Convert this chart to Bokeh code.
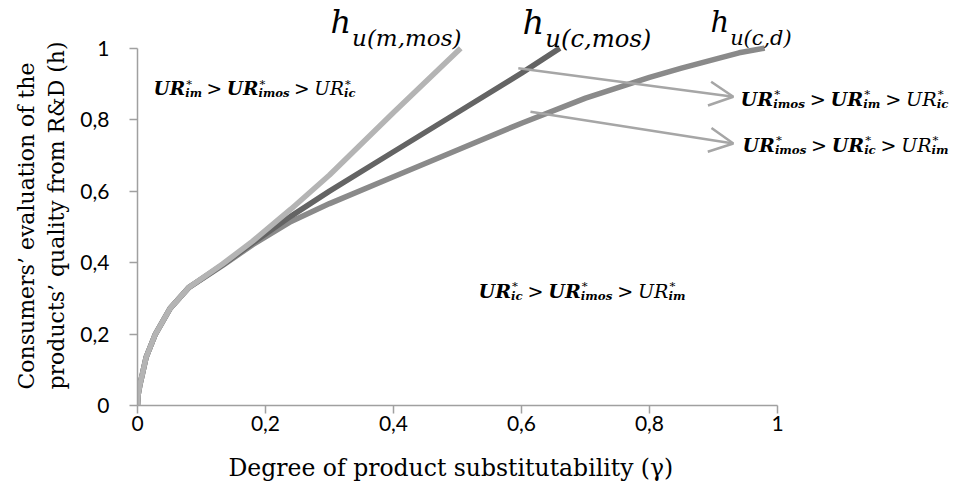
import glob
import os

from bokeh.plotting import figure
from bokeh.models import Range1d, Label, Arrow, OpenHead, FixedTicker, Title
from bokeh.embed import file_html
from bokeh.resources import INLINE

try:
    from PIL import ImageFont
except Exception:  # pragma: no cover
    ImageFont = None

# ---------------- data ----------------
GAMMA_M_MOS = [0, 0.001, 0.004, 0.0076, 0.0135, 0.028, 0.051, 0.08, 0.133, 0.18, 0.24, 0.3, 0.4, 0.505]
H_M_MOS = [0, 0.03, 0.06, 0.088, 0.135, 0.2, 0.272, 0.33, 0.396, 0.46, 0.55, 0.645, 0.82, 1.0]

GAMMA_C_MOS = [0, 0.001, 0.004, 0.0076, 0.0135, 0.028, 0.051, 0.08, 0.133, 0.18, 0.24, 0.3, 0.4, 0.5, 0.6, 0.66]
H_C_MOS = [0, 0.03, 0.06, 0.088, 0.135, 0.2, 0.272, 0.33, 0.394, 0.455, 0.53, 0.6, 0.71, 0.82, 0.93, 1.0]

GAMMA_C_D = [0, 0.001, 0.004, 0.0076, 0.0135, 0.028, 0.051, 0.08, 0.133, 0.18, 0.24, 0.3, 0.4, 0.5, 0.6, 0.7, 0.8, 0.85, 0.9, 0.94, 0.98]
H_C_D = [0, 0.03, 0.06, 0.088, 0.135, 0.2, 0.272, 0.33, 0.392, 0.45, 0.515, 0.565, 0.64, 0.715, 0.79, 0.86, 0.918, 0.944, 0.968, 0.987, 1.0]

CURVE_NAMES = ["m,mos", "c,mos", "c,d"]
CURVE_COLORS = ["#b4b4b4", "#646464", "#8a8a8a"]

X_TICKS = [0, 0.2, 0.4, 0.6, 0.8, 1]
X_TICK_LABELS = ["0", "0,2", "0,4", "0,6", "0,8", "1"]
Y_TICKS = [0, 0.2, 0.4, 0.6, 0.8, 1]
Y_TICK_LABELS = ["0", "0,2", "0,4", "0,6", "0,8", "1"]

X_TITLE = "Degree of product substitutability (γ)"
Y_TITLE_LINES = ["Consumers’ evaluation of the", "products’ quality from R&D (h)"]

# arrows (data coordinates): start -> end
ARROW_X0 = [0.595, 0.614]
ARROW_Y0 = [0.944, 0.822]
ARROW_X1 = [0.931, 0.931]
ARROW_Y1 = [0.864, 0.733]

# region texts: (subscript, kind) with kind b = bold UR, i = italic UR
EXPRESSIONS = [
    [("im", "b"), ("imos", "b"), ("ic", "i")],
    [("imos", "b"), ("im", "b"), ("ic", "i")],
    [("imos", "b"), ("ic", "b"), ("im", "i")],
    [("ic", "b"), ("imos", "b"), ("im", "i")],
]

# ---------------- layout ----------------
FIG_W, FIG_H = 957, 499
FRAME_L, FRAME_T, FRAME_B = 137, 0, 408   # figure pixels
PX_PER_X = 640.0                            # pixels per unit of gamma
PX_PER_Y = 360.0                            # pixels per unit of h


def dx(px):
    return (px - FRAME_L) / PX_PER_X


def dy(py):
    return (FRAME_B - py) / PX_PER_Y


FONT_FILES = {
    ("Liberation Serif", "normal"): ["LiberationSerif-Regular.ttf"],
    ("Liberation Serif", "italic"): ["LiberationSerif-Italic.ttf"],
    ("Liberation Serif", "bold"): ["LiberationSerif-Bold.ttf"],
    ("Liberation Serif", "bold italic"): ["LiberationSerif-BoldItalic.ttf"],
    ("DejaVu Serif", "normal"): ["DejaVuSerif.ttf"],
    ("DejaVu Serif", "italic"): ["DejaVuSerif-Italic.ttf", "DejaVuSerif-Oblique.ttf"],
    ("DejaVu Serif", "bold"): ["DejaVuSerif-Bold.ttf"],
    ("DejaVu Serif", "bold italic"): ["DejaVuSerif-BoldItalic.ttf", "DejaVuSerif-BoldOblique.ttf"],
}
FONT_DIRS = ["/usr/share/fonts", "/usr/local/share/fonts",
             os.path.expanduser("~/.fonts"), os.path.expanduser("~/.local/share/fonts")]
_path_cache = {}
_font_cache = {}


def font_path(family, style):
    key = (family, style)
    if key in _path_cache:
        return _path_cache[key]
    found = None
    for fn in FONT_FILES.get(key, []):
        for d in FONT_DIRS:
            if not os.path.isdir(d):
                continue
            hits = glob.glob(os.path.join(d, "**", fn), recursive=True)
            if hits:
                found = hits[0]
                break
        if found:
            break
    _path_cache[key] = found
    return found


def measure(text, family, style, size):
    path = font_path(family, style)
    if path is None:
        path = font_path(family, "normal")
    if path is not None and ImageFont is not None:
        try:
            if path not in _font_cache:
                _font_cache[path] = ImageFont.truetype(path, 100)
            return _font_cache[path].getlength(text) * size / 100.0
        except Exception:
            pass
    return len(text) * 0.55 * size


MATH_FONT = "DejaVu Serif" if (font_path("DejaVu Serif", "italic") and font_path("DejaVu Serif", "bold italic")) else "Liberation Serif"
TITLE_FONT = "DejaVu Serif"
TICK_FONT = "Lato"

x_end = (FIG_W - FRAME_L) / PX_PER_X
y_end = (FRAME_B - FRAME_T) / PX_PER_Y

p = figure(width=FIG_W, height=FIG_H, x_range=Range1d(0, x_end), y_range=Range1d(0, y_end),
           output_backend="svg", toolbar_location=None,
           min_border_left=FRAME_L, min_border_right=0,
           min_border_top=FRAME_T, min_border_bottom=FIG_H - FRAME_B)
p.background_fill_color = "white"
p.border_fill_color = "white"
p.outline_line_color = None
p.xgrid.visible = False
p.ygrid.visible = False

for ax, ticks, labels in ((p.xaxis[0], X_TICKS, X_TICK_LABELS), (p.yaxis[0], Y_TICKS, Y_TICK_LABELS)):
    ax.bounds = (0, 1)
    ax.ticker = FixedTicker(ticks=ticks)
    ax.major_label_overrides = {t: l for t, l in zip(ticks, labels)}
    ax.axis_line_color = "#a0a0a0"
    ax.axis_line_width = 1.5
    ax.major_tick_line_color = "#a0a0a0"
    ax.major_tick_line_width = 1.5
    ax.major_tick_in = 0
    ax.major_tick_out = 8
    ax.minor_tick_line_color = None
    ax.major_label_text_font = TICK_FONT
    ax.major_label_text_font_size = "21px"
    ax.major_label_text_color = "black"

p.xaxis[0].major_label_standoff = 2
p.yaxis[0].major_label_standoff = 20

# axis titles (as side-panel titles so they can be placed precisely)
p.add_layout(Title(text=X_TITLE, align="left", offset=91, standoff=36,
                   text_font=TITLE_FONT, text_font_size="23.5px", text_font_style="normal",
                   text_color="black"), "below")
p.add_layout(Title(text="\n".join(Y_TITLE_LINES), align="left", offset=16, standoff=18,
                   text_font=TITLE_FONT, text_font_size="22px", text_font_style="normal",
                   text_line_height=1.18, text_color="black"), "left")

# curves
for gx, hy, col in ((GAMMA_C_D, H_C_D, CURVE_COLORS[2]),
                    (GAMMA_C_MOS, H_C_MOS, CURVE_COLORS[1]),
                    (GAMMA_M_MOS, H_M_MOS, CURVE_COLORS[0])):
    p.line(gx, hy, line_color=col, line_width=5.5)

# arrows
for x0, y0, x1, y1 in zip(ARROW_X0, ARROW_Y0, ARROW_X1, ARROW_Y1):
    p.add_layout(Arrow(end=OpenHead(size=24, line_color="#a6a6a6", line_width=2.5),
                       x_start=x0, y_start=y0, x_end=x1, y_end=y1,
                       line_color="#a6a6a6", line_width=2.5))


def put(px, py, text, family, style, size, align="left", baseline="alphabetic", color="black"):
    p.add_layout(Label(x=dx(px), y=dy(py), text=text, text_font=family, text_font_style=style,
                       text_font_size="%.1fpx" % size, text_align=align, text_baseline=baseline,
                       text_color=color))


# ---- curve names h_u(...) ----
H_POS = [(330, 22, 130), (522, 22, 128), (710, 22, 80)]
for (hx, hb, target), name in zip(H_POS, CURVE_NAMES):
    sub = "u(" + name + ")"
    w = measure("h", MATH_FONT, "italic", 100.0) + measure(sub, MATH_FONT, "italic", 72.0)
    k = min(max(target / w, 0.2), 0.45)
    hs, ss = 100.0 * k, 72.0 * k
    put(hx, hb, "h", MATH_FONT, "italic", hs)
    put(hx + measure("h", MATH_FONT, "italic", hs) + 1, hb + 16, sub, MATH_FONT, "italic", ss)

# ---- region expressions ----
EXPR_POS = [(153, 89, 202), (740, 100, 208), (742, 146, 206), (478, 293, 207)]
SUB_RATIO = 0.62


def sep_width(M):
    return measure(">", MATH_FONT, "normal", M) + 0.5 * M


def expr_width(terms, M):
    S = SUB_RATIO * M
    w = 0.0
    for i, (sub, kind) in enumerate(terms):
        w += measure("UR", MATH_FONT, "bold italic" if kind == "b" else "italic", M)
        w += max(measure(sub, MATH_FONT, "bold italic", S), measure("*", MATH_FONT, "normal", S))
        if i < len(terms) - 1:
            w += sep_width(M)
    return w


for terms, (ex, eb, target) in zip(EXPRESSIONS, EXPR_POS):
    M = 100.0 * target / expr_width(terms, 100.0)
    M = min(max(M, 14), 24)
    S = SUB_RATIO * M
    cx = ex
    for i, (sub, kind) in enumerate(terms):
        st = "bold italic" if kind == "b" else "italic"
        put(cx, eb, "UR", MATH_FONT, st, M)
        cx += measure("UR", MATH_FONT, st, M)
        put(cx + 1, eb - 0.28 * M, "*", MATH_FONT, "normal", S)
        put(cx, eb + 0.22 * M, sub, MATH_FONT, "bold italic", S)
        cx += max(measure(sub, MATH_FONT, "bold italic", S), measure("*", MATH_FONT, "normal", S))
        if i < len(terms) - 1:
            sw = sep_width(M)
            put(cx + sw / 2.0, eb, ">", MATH_FONT, "normal", M, align="center")
            cx += sw

open("out.html", "w").write(file_html(p, INLINE))
